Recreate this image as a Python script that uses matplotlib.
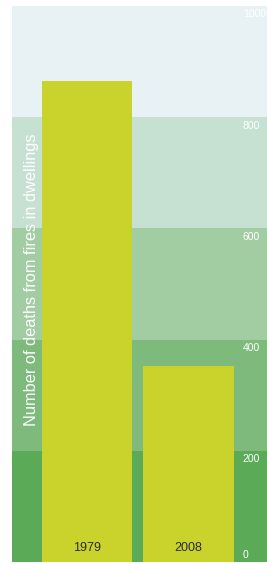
import matplotlib.pyplot as plt
import matplotlib.transforms as mtransforms

years = ["1979", "2008"]
deaths = [865, 353]
band_edges = [0, 200, 400, 600, 800, 1000]
band_colors = ["#5aaa57", "#7eba7c", "#a2cda3", "#c6e0d1", "#e8f1f4"]
tick_values = [0, 200, 400, 600, 800, 1000]

fig = plt.figure(figsize=(2.67, 5.64), dpi=100)
fig.patch.set_facecolor("white")
ax = fig.add_axes([12 / 267, 2 / 564, 255 / 267, 556 / 564])

# background bands
for lo, hi, c in zip(band_edges[:-1], band_edges[1:], band_colors):
    ax.axhspan(lo, hi, color=c, lw=0, zorder=0)

x = list(range(len(years)))
ax.bar(x, deaths, width=0.89, color="#cad32c", zorder=2)

for xi, yr in zip(x, years):
    ax.text(xi, 25, yr, ha="center", va="center", fontsize=9,
            color="#2a2a2a", family="Liberation Sans", zorder=3)

# value scale labels on the right
trans = mtransforms.blended_transform_factory(ax.transAxes, ax.transData)
for v in tick_values:
    if v == 0:
        ax.text(0.905, 4, "0", transform=trans, ha="left", va="bottom",
                fontsize=7.5, color="white", family="Liberation Sans")
    else:
        ax.text(0.905, v - 6, str(v), transform=trans, ha="left", va="top",
                fontsize=7.5, color="white", family="Liberation Sans")

ax.text(0.075, 0.507, "Number of deaths from fires in dwellings",
        transform=ax.transAxes, rotation=90, ha="center", va="center",
        fontsize=11.8, color="white", family="Liberation Sans")

ax.set_xlim(-0.739, 1.773)
ax.set_ylim(0, 1000)
ax.axis("off")

fig.savefig("out.png", dpi=100, facecolor="white")
